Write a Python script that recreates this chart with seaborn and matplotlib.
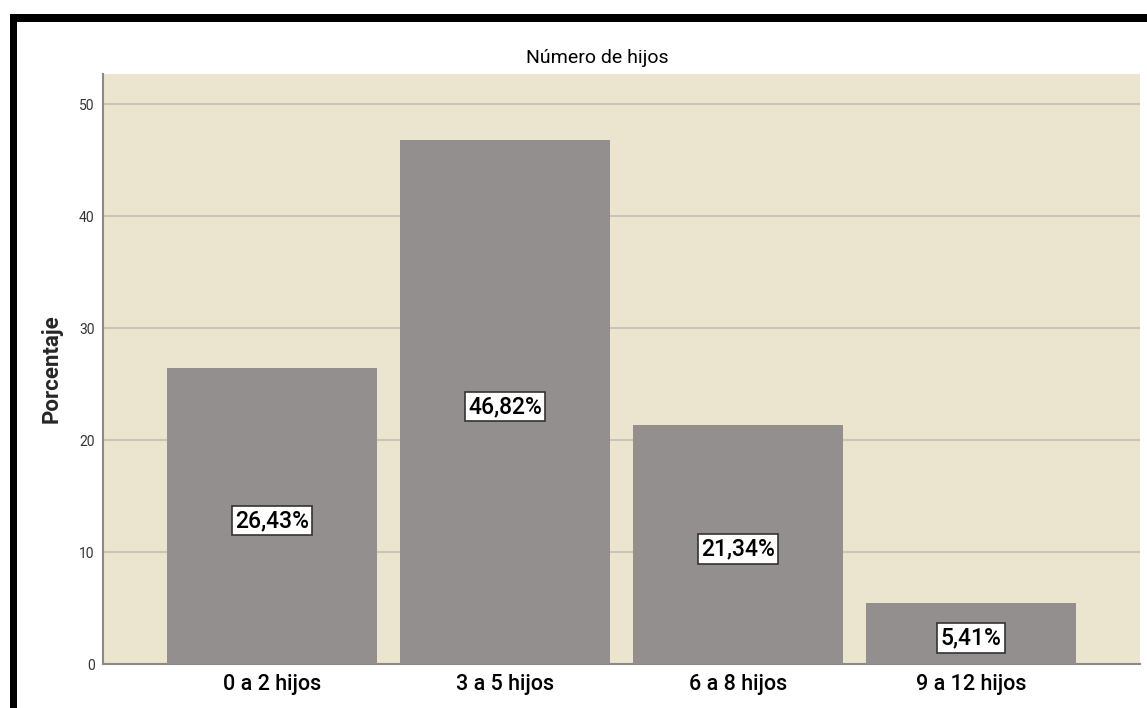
import matplotlib
matplotlib.use('Agg')
import matplotlib.pyplot as plt
import seaborn as sns
import pandas as pd
from matplotlib.patches import Rectangle

# Datos
categorias = ['0 a 2 hijos', '3 a 5 hijos', '6 a 8 hijos', '9 a 12 hijos']
porcentajes = [26.43, 46.82, 21.34, 5.41]
etiquetas = ['26,43%', '46,82%', '21,34%', '5,41%']

df = pd.DataFrame({'Hijos': categorias, 'Porcentaje': porcentajes})

sns.set_theme(style='white')
plt.rcParams['font.family'] = ['Roboto', 'Liberation Sans', 'DejaVu Sans']

W, H = 1147, 708
fig = plt.figure(figsize=(W / 100, H / 100), dpi=100)
ax = fig.add_axes([103 / W, 1 - 664 / H, (1140 - 103) / W, (664 - 74) / H])
ax.set_facecolor('#ebe4cf')

sns.barplot(data=df, x='Hijos', y='Porcentaje', color='#938f8e', width=0.9,
            saturation=1, linewidth=0, edgecolor='none', ax=ax, zorder=3)

ax.set_xlim(-0.725, 3.725)
ax.set_ylim(0, 52.7)
ax.set_yticks([0, 10, 20, 30, 40, 50])
ax.yaxis.grid(True, color='#c9c4b6', linewidth=1.5, zorder=1)
ax.set_axisbelow(True)
for s in ['top', 'right']:
    ax.spines[s].set_visible(False)
for s in ['left', 'bottom']:
    ax.spines[s].set_color('#8a8a8a')
    ax.spines[s].set_linewidth(1.5)
ax.tick_params(axis='y', labelsize=10, colors='#333333', length=0, pad=6)
ax.tick_params(axis='x', labelsize=15.5, length=0, pad=7)
for t in ax.get_xticklabels():
    t.set_color('black')
    t.set_fontweight('medium')
ax.set_xlabel('')
ax.set_ylabel('Porcentaje', fontsize=16, fontweight='bold', labelpad=12)

# Etiquetas de porcentaje dentro de las barras
for i, (v, lab) in enumerate(zip(porcentajes, etiquetas)):
    ax.text(i, v / 2 - 0.4, lab, ha='center', va='center', fontsize=16.5,
            fontweight='medium', color='black', zorder=5,
            bbox=dict(boxstyle='square,pad=0.14', facecolor='white',
                      edgecolor='#333333', linewidth=1.2))

fig.text(597 / W, 1 - 58 / H, 'Número de hijos', ha='center', va='center',
         fontsize=14, color='black')

# Borde negro superior e izquierdo
fig.patches.append(Rectangle((10 / W, 1 - 22 / H), 1 - 10 / W, 8 / H,
                             transform=fig.transFigure, facecolor='black',
                             edgecolor='none', zorder=10))
fig.patches.append(Rectangle((10 / W, 0), 7 / W, 1 - 14 / H,
                             transform=fig.transFigure, facecolor='black',
                             edgecolor='none', zorder=10))

fig.savefig('out.png', dpi=100)
